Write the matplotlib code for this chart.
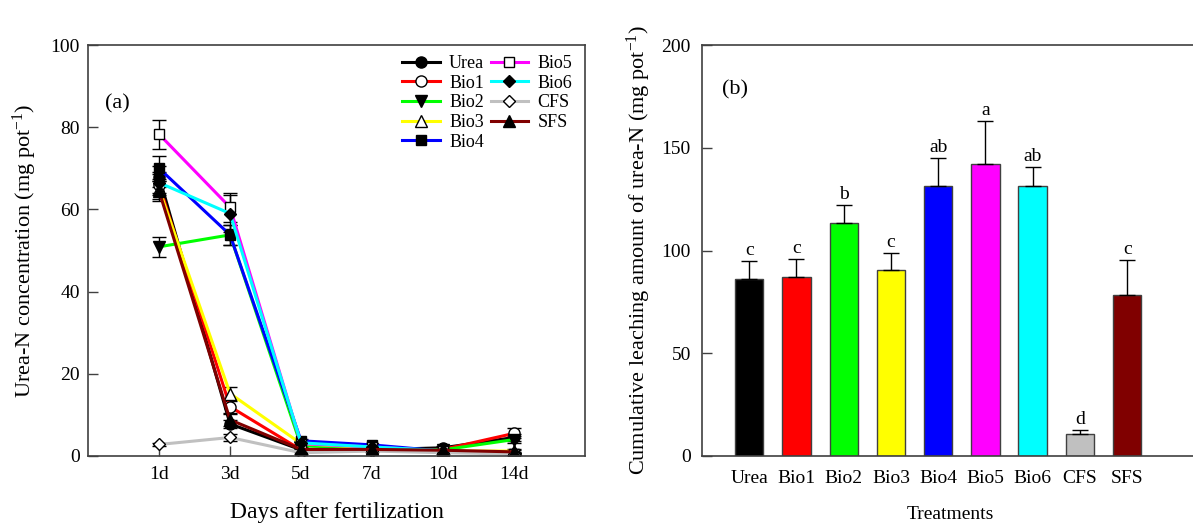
import matplotlib
matplotlib.use('Agg')
import matplotlib.pyplot as plt
import numpy as np

plt.rcParams['font.family'] = ['Liberation Serif', 'DejaVu Serif']
plt.rcParams['mathtext.fontset'] = 'custom'
plt.rcParams['mathtext.rm'] = 'Liberation Serif'
plt.rcParams['mathtext.it'] = 'Liberation Serif:italic'

# panel (a) data
days = ['1d', '3d', '5d', '7d', '10d', '14d']
series = ['Urea', 'Bio1', 'Bio2', 'Bio3', 'Bio4', 'Bio5', 'Bio6', 'CFS', 'SFS']
urea = [68.0, 7.8, 1.5, 1.5, 2.0, 4.5]
bio1 = [66.0, 12.0, 1.5, 1.5, 1.6, 5.5]
bio2 = [50.9, 53.8, 2.5, 1.8, 1.5, 4.0]
bio3 = [65.0, 15.2, 3.0, 2.0, 1.2, 1.2]
bio4 = [70.0, 53.8, 3.7, 2.7, 1.2, 0.5]
bio5 = [78.3, 60.5, 3.0, 2.2, 1.2, 0.5]
bio6 = [66.5, 59.0, 3.2, 2.2, 1.3, 0.7]
cfs = [2.8, 4.5, 0.8, 1.2, 0.8, 0.5]
sfs = [64.5, 8.8, 1.6, 1.6, 1.4, 1.0]
urea_err = [2.5, 1.0, 0.3, 0.3, 0.4, 0.8]
bio1_err = [2.5, 1.5, 0.3, 0.3, 0.4, 1.2]
bio2_err = [2.5, 2.5, 0.4, 0.3, 0.3, 0.8]
bio3_err = [2.5, 1.5, 0.4, 0.3, 0.3, 0.4]
bio4_err = [3.0, 2.5, 0.4, 0.3, 0.3, 0.2]
bio5_err = [3.5, 3.5, 0.4, 0.3, 0.3, 0.2]
bio6_err = [2.5, 4.5, 0.4, 0.3, 0.3, 0.2]
cfs_err = [0.3, 0.8, 0.2, 0.2, 0.2, 0.2]
sfs_err = [2.5, 1.5, 0.3, 0.3, 0.3, 0.4]

# panel (b) data
treat = ['Urea', 'Bio1', 'Bio2', 'Bio3', 'Bio4', 'Bio5', 'Bio6', 'CFS', 'SFS']
cum = [86.0, 87.0, 113.4, 90.4, 131.4, 142.2, 131.4, 10.7, 78.5]
cum_err = [9.0, 9.0, 8.6, 8.6, 13.5, 21.0, 9.4, 2.1, 16.7]
letters = ['c', 'c', 'b', 'c', 'ab', 'a', 'ab', 'd', 'c']

colors = ['black', 'red', '#00ff00', 'yellow', 'blue', 'magenta', 'cyan', '#c0c0c0', '#800000']
markers = ['o', 'o', 'v', '^', 's', 's', 'D', 'D', '^']
faces = ['black', 'white', 'black', 'white', 'black', 'white', 'black', 'white', 'black']
msizes = [8, 8, 8, 8, 7, 7, 6, 6, 8]

vals = [urea, bio1, bio2, bio3, bio4, bio5, bio6, cfs, sfs]
errs = [urea_err, bio1_err, bio2_err, bio3_err, bio4_err, bio5_err, bio6_err, cfs_err, sfs_err]

spine_c = '#404040'
fig = plt.figure(figsize=(11.93, 5.26), dpi=100)

ax1 = fig.add_axes([0.0738, 0.1331, 0.4166, 0.7813])
x = np.arange(len(days))
for i in range(len(series)):
    ax1.errorbar(x, vals[i], yerr=errs[i], color=colors[i], lw=2.2,
                 marker=markers[i], markersize=msizes[i], markerfacecolor=faces[i],
                 markeredgecolor='black', markeredgewidth=1.0,
                 ecolor='black', elinewidth=1.0, capsize=5, capthick=1.0,
                 label=series[i])
ax1.set_xlim(-1, 6)
ax1.set_ylim(0, 100)
ax1.set_xticks(x)
ax1.set_xticklabels(days)
ax1.set_yticks([0, 20, 40, 60, 80, 100])
ax1.tick_params(direction='in', length=7, width=1, colors=spine_c, labelcolor='black',
                labelsize=14, pad=7)
ax1.tick_params(axis='y', pad=6)
for s in ax1.spines.values():
    s.set_color(spine_c)
    s.set_linewidth(1.2)
ax1.set_xlabel('Days after fertilization', fontsize=17, labelpad=14)
ax1.set_ylabel(r'Urea-N concentration (mg pot$^{-1}$)', fontsize=16, labelpad=8)
ax1.text(0.035, 0.845, '(a)', transform=ax1.transAxes, fontsize=16)

h, l = ax1.get_legend_handles_labels()
h = [hh[0] for hh in h]
ax1.legend(h, l, ncol=2, frameon=False, loc='upper left', bbox_to_anchor=(0.632, 0.976),
           borderaxespad=0, borderpad=0, fontsize=13, handlelength=2.1,
           handletextpad=0.5, labelspacing=0.15, columnspacing=0.35)

ax2 = fig.add_axes([0.5884, 0.1331, 0.4158, 0.7813])
xb = np.arange(len(treat))
ax2.bar(xb, cum, width=0.6, color=colors, edgecolor=spine_c, linewidth=1.0)
ax2.errorbar(xb, cum, yerr=[np.zeros(len(cum)), cum_err], fmt='none', ecolor='black',
             elinewidth=1.0, capsize=6, capthick=1.0)
for i in range(len(treat)):
    ax2.text(xb[i], cum[i] + cum_err[i] + 1.0, letters[i], ha='center', va='bottom', fontsize=14)
ax2.set_xlim(-1, 9.5)
ax2.set_ylim(0, 200)
ax2.set_xticks(xb)
ax2.set_xticklabels(treat)
ax2.set_yticks([0, 50, 100, 150, 200])
ax2.tick_params(axis='x', length=0, labelsize=14, pad=10)
ax2.tick_params(axis='y', direction='in', length=7, width=1, colors=spine_c,
                labelcolor='black', labelsize=14, pad=8)
for s in ax2.spines.values():
    s.set_color(spine_c)
    s.set_linewidth(1.2)
ax2.set_xlabel('Treatments', fontsize=14, labelpad=14)
ax2.set_ylabel(r'Cumulative leaching amount of urea-N (mg pot$^{-1}$)', fontsize=16, labelpad=6)
ax2.text(0.04, 0.88, '(b)', transform=ax2.transAxes, fontsize=16)

fig.savefig('out.png', dpi=100)
